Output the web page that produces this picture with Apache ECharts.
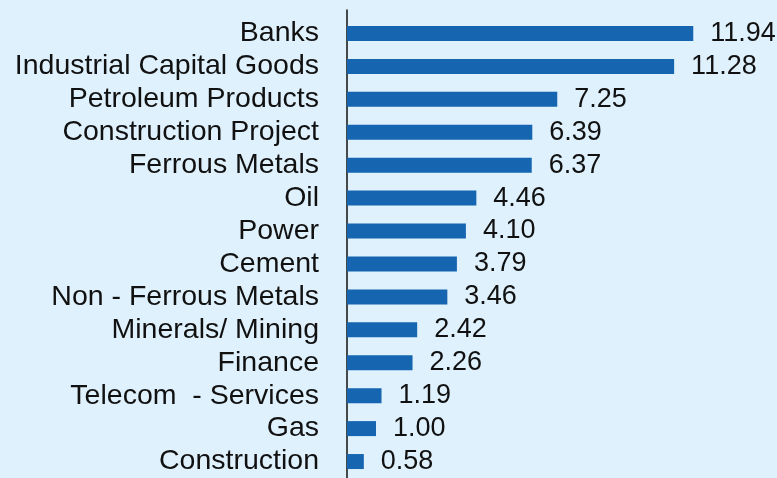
<!DOCTYPE html>
<html>
<head>
<meta charset="utf-8">
<script src="https://cdn.jsdelivr.net/npm/echarts@6/dist/echarts.min.js"></script>
<style>
  html, body { margin: 0; padding: 0; background: #dff1fc; }
  #chart { width: 777px; height: 478px; }
</style>
</head>
<body>
<div id="chart"></div>
<script>
// Sector weights (%), top to bottom
const sectors = [
  'Banks', 'Industrial Capital Goods', 'Petroleum Products', 'Construction Project',
  'Ferrous Metals', 'Oil', 'Power', 'Cement', 'Non - Ferrous Metals',
  'Minerals/ Mining', 'Finance', 'Telecom  - Services', 'Gas', 'Construction'
];
const weights = [11.94, 11.28, 7.25, 6.39, 6.37, 4.46, 4.10, 3.79, 3.46, 2.42, 2.26, 1.19, 1.00, 0.58];

const FONT = '"Liberation Sans", Arial, sans-serif';
const chart = echarts.init(document.getElementById('chart'), null, { renderer: 'canvas' });

chart.setOption({
  backgroundColor: '#dff1fc',
  animation: false,
  grid: [
    { left: 347, top: 17, width: 406, bottom: -3, containLabel: false },
    // separate grid that only carries the taller vertical axis line
    { left: 347, top: 10, width: 406, bottom: -3, containLabel: false }
  ],
  xAxis: [
    { type: 'value', gridIndex: 0, min: 0, max: 14, show: false },
    { type: 'value', gridIndex: 1, min: 0, max: 14, show: false }
  ],
  yAxis: [
    {
      type: 'category', gridIndex: 0, inverse: true, data: sectors,
      axisLine: { show: false }, axisTick: { show: false },
      axisLabel: { interval: 0, margin: 28, fontSize: 28.5, color: '#111', fontFamily: FONT, padding: [4, 0, 0, 0] }
    },
    {
      type: 'value', gridIndex: 1, min: 0, max: 1,
      axisLine: { show: true, lineStyle: { color: '#111', width: 1.5 } },
      axisTick: { show: false }, axisLabel: { show: false }, splitLine: { show: false }
    }
  ],
  series: [{
    type: 'bar',
    xAxisIndex: 0, yAxisIndex: 0,
    data: weights,
    barWidth: 15,
    itemStyle: { color: '#1565b0' },
    label: {
      show: true, position: 'right', distance: 17,
      fontSize: 27, color: '#111', fontFamily: FONT, padding: [4, 0, 0, 0],
      formatter: p => p.value.toFixed(2)
    }
  }]
});
</script>
</body>
</html>
